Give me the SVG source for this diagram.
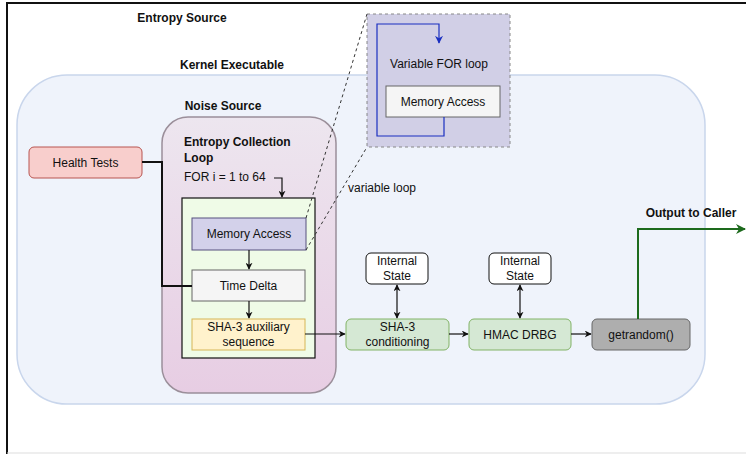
<svg xmlns="http://www.w3.org/2000/svg" width="746" height="454" viewBox="0 0 746 454">
<defs>
<style>
.t{font-family:"Liberation Sans",Arial,sans-serif;font-size:12px;fill:#111;text-anchor:middle;dominant-baseline:central}
.b{font-weight:bold}
.l{text-anchor:start}
.c{fill:none;stroke:#111;stroke-width:1.2}
</style>
<linearGradient id="ng" x1="0" y1="0" x2="0" y2="1">
<stop offset="0" stop-color="#ede6ef"/>
<stop offset="1" stop-color="#e7cde3"/>
</linearGradient>
<marker id="ar" viewBox="0 0 10 10" refX="9" refY="5" markerWidth="7" markerHeight="7" orient="auto-start-reverse" markerUnits="userSpaceOnUse">
<path d="M0,0 L10,5 L0,10 L3,5 Z" fill="#111"/>
</marker>
<marker id="arb" viewBox="0 0 10 10" refX="9" refY="5" markerWidth="8" markerHeight="8" orient="auto" markerUnits="userSpaceOnUse">
<path d="M0,0 L10,5 L0,10 L3,5 Z" fill="#1a2fc0"/>
</marker>
<marker id="arg" viewBox="0 0 10 10" refX="9" refY="5" markerWidth="10" markerHeight="10" orient="auto" markerUnits="userSpaceOnUse">
<path d="M0,0 L10,5 L0,10 L3,5 Z" fill="#1d6a1d"/>
</marker>
</defs>
<rect x="0" y="0" width="746" height="454" fill="#fff"/>
<g id="frame">
<path d="M7,454 L7,3 L746,3" fill="none" stroke="#111" stroke-width="2"/>
<line x1="7" y1="453" x2="746" y2="453" stroke="#ddd" stroke-width="1"/>
</g>
<text class="t b" x="182" y="18">Entropy Source</text>
<g id="kernel">
<rect x="17" y="75" width="688" height="329" rx="50" fill="#eff3fb" stroke="#c9d6ec" stroke-width="1.5"/>
<text class="t b" x="232" y="65">Kernel Executable</text>
</g>
<g id="noise">
<rect x="162" y="117" width="174" height="276" rx="26" fill="url(#ng)" stroke="#9b8f9a" stroke-width="1.5"/>
<text class="t b" x="223" y="106">Noise Source</text>
<text class="t b l" x="184" y="142">Entropy Collection</text>
<text class="t b l" x="184" y="158">Loop</text>
<text class="t l" x="184" y="177">FOR i = 1 to 64</text>
</g>
<g id="loop">
<rect x="182" y="198" width="133" height="160" fill="#effbe7" stroke="#111" stroke-width="1.2"/>
</g>
<g id="health">
<rect x="29" y="147" width="113" height="31" rx="5" fill="#f8cecc" stroke="#b85450"/>
<text class="t" x="85.5" y="162.5">Health Tests</text>
</g>
<g id="mem">
<rect x="192" y="218" width="114" height="32" fill="#d3d1ea" stroke="#56517e"/>
<text class="t" x="249" y="234">Memory Access</text>
</g>
<g id="delta">
<rect x="192" y="270" width="113" height="31" fill="#f5f5f5" stroke="#666"/>
<text class="t" x="248.5" y="285.5">Time Delta</text>
</g>
<g id="aux">
<rect x="192" y="319" width="113" height="31" fill="#fff2cc" stroke="#d6b656"/>
<text class="t" x="248.5" y="327">SHA-3 auxiliary</text>
<text class="t" x="248.5" y="342">sequence</text>
</g>
<g id="zoombox">
<rect x="367" y="14" width="143" height="133" fill="#d1cfe6" stroke="#888" stroke-dasharray="3 3"/>
<text class="t" x="439" y="64">Variable FOR loop</text>
<rect x="386" y="86" width="114" height="31" fill="#f5f5f5" stroke="#666"/>
<text class="t" x="443" y="101.5">Memory Access</text>
<path d="M444,117 L444,136 L377,136 L377,24 L439,24 L439,43" fill="none" stroke="#1a2fc0" stroke-width="1.2" marker-end="url(#arb)"/>
</g>
<g id="is1">
<rect x="366" y="253" width="62" height="31" rx="5" fill="#fff" stroke="#111"/>
<text class="t" x="397" y="261">Internal</text>
<text class="t" x="397" y="276">State</text>
</g>
<g id="is2">
<rect x="489" y="253" width="62" height="31" rx="5" fill="#fff" stroke="#111"/>
<text class="t" x="520" y="261">Internal</text>
<text class="t" x="520" y="276">State</text>
</g>
<g id="cond">
<rect x="346" y="319" width="103" height="31" rx="5" fill="#d5e8d4" stroke="#82b366"/>
<text class="t" x="397.5" y="327">SHA-3</text>
<text class="t" x="397.5" y="342">conditioning</text>
</g>
<g id="hmac">
<rect x="469" y="319" width="102" height="31" rx="5" fill="#d5e8d4" stroke="#82b366"/>
<text class="t" x="520" y="334.5">HMAC DRBG</text>
</g>
<g id="getrandom">
<rect x="592" y="319" width="98" height="31" rx="5" fill="#aeaeae" stroke="#666"/>
<text class="t" x="641" y="334.5">getrandom()</text>
</g>
<text class="t b" x="691" y="213">Output to Caller</text>
<text class="t l" x="348" y="188">variable loop</text>
<g id="connectors">
<path class="c" d="M274,178 L282,178 L282,197" marker-end="url(#ar)"/>
<path d="M142,162 L162,162 L162,286 L192,286" fill="none" stroke="#111" stroke-width="2"/>
<path class="c" d="M249,250 L249,269" marker-end="url(#ar)"/>
<path class="c" d="M249,301 L249,318" marker-end="url(#ar)"/>
<path class="c" d="M305,334 L345,334" marker-end="url(#ar)"/>
<path class="c" d="M449,334 L468,334" marker-end="url(#ar)"/>
<path class="c" d="M571,334 L591,334" marker-end="url(#ar)"/>
<path class="c" d="M397,285 L397,318" marker-start="url(#ar)" marker-end="url(#ar)"/>
<path class="c" d="M520,285 L520,318" marker-start="url(#ar)" marker-end="url(#ar)"/>
<path d="M638,319 L638,229 L745,229" fill="none" stroke="#1d6a1d" stroke-width="2" marker-end="url(#arg)"/>
<path d="M306,218 L367,14" fill="none" stroke="#333" stroke-dasharray="3 3"/>
<path d="M306,250 L367,147" fill="none" stroke="#333" stroke-dasharray="3 3"/>
</g>
</svg>
